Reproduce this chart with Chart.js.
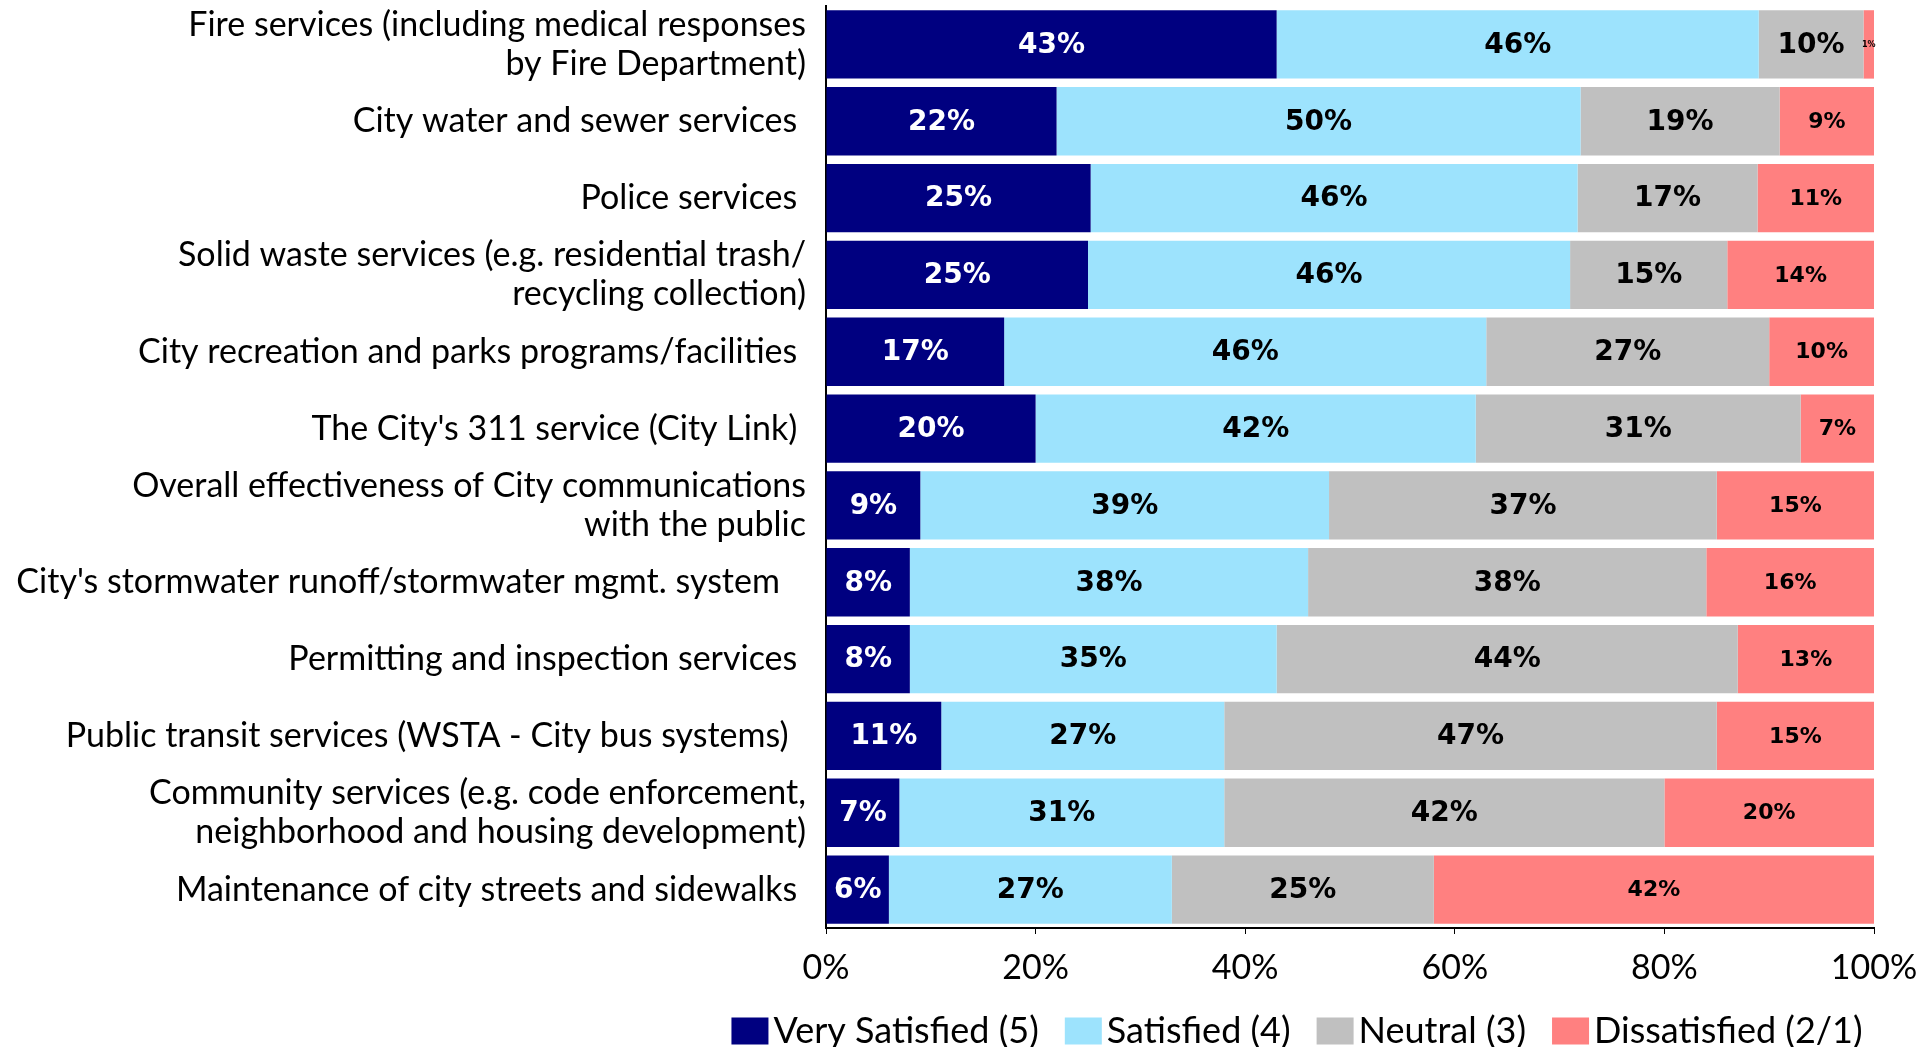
<!DOCTYPE html>
<html>
<head>
<meta charset="utf-8">
<script src="https://cdn.jsdelivr.net/npm/chart.js@4.4.1/dist/chart.umd.min.js"></script>
<style>
    html, body { margin: 0; padding: 0; background: #fff; overflow: hidden; }
    #wrap { width: 1924px; height: 1047px; }
</style>
</head>
<body>
<div id="wrap"><canvas id="satChart"></canvas></div>
<script>
// service categories (top to bottom)
const categories = [
    ["Fire services (including medical responses", "by Fire Department)"],
    "City water and sewer services ",
    "Police services ",
    ["Solid waste services (e.g. residential trash/", "recycling collection)"],
    "City recreation and parks programs/facilities ",
    "The City's 311 service (City Link) ",
    ["Overall effectiveness of City communications", "with the public"],
    "City's stormwater runoff/stormwater mgmt. system   ",
    "Permitting and inspection services ",
    "Public transit services (WSTA - City bus systems)  ",
    ["Community services (e.g. code enforcement,", "neighborhood and housing development)"],
    "Maintenance of city streets and sidewalks "
];

const seriesNames = ["Very Satisfied (5)", "Satisfied (4)", "Neutral (3)", "Dissatisfied (2/1)"];
const seriesColors = ["#000080", "#9DE3FD", "#C0C0C0", "#FF8080"];

const verySatisfied = [43, 22, 25, 25, 17, 20, 9, 8, 8, 11, 7, 6];
const satisfied     = [46, 50, 46, 46, 46, 42, 39, 38, 35, 27, 31, 27];
const neutral       = [10, 19, 17, 15, 27, 31, 37, 38, 44, 47, 42, 25];
const dissatisfied  = [1, 9, 11, 14, 10, 7, 15, 16, 13, 15, 20, 42];

const xTicks = ["0%", "20%", "40%", "60%", "80%", "100%"];

const rawSeries = [verySatisfied, satisfied, neutral, dissatisfied];

// 100% stacked, like the original: each row is scaled to its own total
const rowTotals = categories.map((c, i) => rawSeries.reduce((acc, s) => acc + s[i], 0));

const datasets = rawSeries.map((s, k) => ({
    label: seriesNames[k],
    raw: s,
    data: s.map((v, i) => v / rowTotals[i] * 100),
    backgroundColor: seriesColors[k],
    borderWidth: 0,
    barPercentage: 0.89,
    categoryPercentage: 1.0
}));

const labelFont = "'Lato', 'Liberation Sans', sans-serif";

// draws the percentage inside each segment
const barLabels = {
    id: "barLabels",
    afterDatasetsDraw(chart) {
        const ctx = chart.ctx;
        ctx.save();
        ctx.textAlign = "center";
        ctx.textBaseline = "middle";
        chart.data.datasets.forEach((ds, k) => {
            const meta = chart.getDatasetMeta(k);
            meta.data.forEach((bar, i) => {
                const v = ds.raw[i];
                const cx = (bar.x + bar.base) / 2;
                if (k === 3) {
                    ctx.font = (v < 3 ? "bold 8px" : "bold 22px") + " 'DejaVu Sans'";
                } else {
                    ctx.font = "bold 28px 'DejaVu Sans'";
                }
                ctx.fillStyle = k === 0 ? "#ffffff" : "#000000";
                ctx.fillText(v + "%", cx, bar.y + 1);
            });
        });
        ctx.restore();
    }
};

// legend under the axis, box tight to its text like the original
const bottomLegend = {
    id: "bottomLegend",
    afterDraw(chart) {
        const ctx = chart.ctx;
        const boxW = 37, boxH = 27, gap = 5, itemGap = 26;
        const centerX = 1297, midY = 1031;
        ctx.save();
        ctx.font = "36px " + labelFont;
        const items = chart.data.datasets.map(ds => ({
            text: ds.label,
            color: ds.backgroundColor,
            w: ctx.measureText(ds.label).width
        }));
        const total = items.reduce((acc, it) => acc + boxW + gap + it.w, 0) + itemGap * (items.length - 1);
        let x = centerX - total / 2;
        ctx.textBaseline = "middle";
        ctx.textAlign = "left";
        items.forEach(it => {
            ctx.fillStyle = it.color;
            ctx.fillRect(x, midY - boxH / 2, boxW, boxH);
            x += boxW + gap;
            ctx.fillStyle = "#000";
            ctx.fillText(it.text, x, midY);
            x += it.w + itemGap;
        });
        ctx.restore();
    }
};

const ctx = document.getElementById("satChart").getContext("2d");

new Chart(ctx, {
    type: "bar",
    data: {
        labels: categories,
        datasets: datasets
    },
    plugins: [barLabels, bottomLegend],
    options: {
        indexAxis: "y",
        responsive: true,
        maintainAspectRatio: false,
        animation: false,
        layout: {
            padding: { top: 6, right: 50, left: 0, bottom: 0 }
        },
        scales: {
            x: {
                stacked: true,
                min: 0,
                max: 100,
                afterFit: (scale) => {
                    scale.height = 119;
                    scale.paddingLeft = 0;
                    scale.paddingRight = 0;
                },
                ticks: {
                    stepSize: 20,
                    color: "#000",
                    padding: 14,
                    maxRotation: 0,
                    font: { family: labelFont, size: 34 },
                    callback: (v, i) => xTicks[i]
                },
                grid: {
                    display: true,
                    drawOnChartArea: false,
                    drawTicks: true,
                    tickLength: 6,
                    color: "#000"
                },
                border: { display: true, color: "#000", width: 2 }
            },
            y: {
                stacked: true,
                afterFit: (scale) => {
                    scale.width = 826;
                    scale.paddingTop = 0;
                    scale.paddingBottom = 0;
                },
                ticks: {
                    color: "#000",
                    padding: 12,
                    autoSkip: false,
                    font: { family: labelFont, size: 34, lineHeight: 1.15 }
                },
                grid: { display: false },
                border: { display: true, color: "#000", width: 2 }
            }
        },
        plugins: {
            legend: { display: false },
            tooltip: { enabled: false }
        }
    }
});
</script>
</body>
</html>
